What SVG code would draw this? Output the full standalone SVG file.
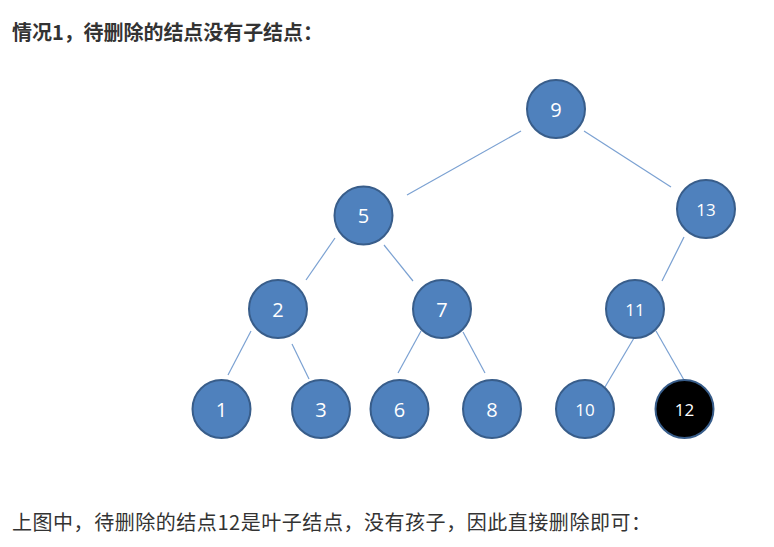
<svg xmlns="http://www.w3.org/2000/svg" width="774" height="547" viewBox="0 0 774 547">
<style>
.t{font-family:"Noto Sans CJK SC","Noto Sans",sans-serif;fill:#333333}
.n circle{fill:#4F81BD;stroke:#385D8A;stroke-width:2}
.n text{font-family:"Open Sans","Noto Sans",sans-serif;fill:#FFFFFF;text-anchor:middle;dominant-baseline:central}
.s{font-size:20px}
.d{font-size:17px}
#edges line{stroke:#7BA1D2;stroke-width:1.2}
</style>
<rect width="774" height="547" fill="#FFFFFF"/>
<text class="t" x="12" y="40" font-size="20" font-weight="bold" textLength="311" lengthAdjust="spacing">情况1，待删除的结点没有子结点：</text>
<g id="edges">
<line x1="521" y1="131" x2="407" y2="195"/>
<line x1="584" y1="131" x2="671" y2="187"/>
<line x1="335" y1="238" x2="306" y2="280"/>
<line x1="384" y1="245" x2="413" y2="281"/>
<line x1="684" y1="237" x2="662" y2="281"/>
<line x1="251" y1="331" x2="228" y2="375"/>
<line x1="292" y1="344" x2="309" y2="379"/>
<line x1="421" y1="331" x2="398" y2="373"/>
<line x1="463" y1="332" x2="485" y2="373"/>
<line x1="634" y1="338" x2="605" y2="387"/>
<line x1="656" y1="331" x2="684" y2="380"/>
</g>
<g id="n9" class="n"><circle cx="556" cy="109" r="29"/><text class="s" x="556" y="109">9</text></g>
<g id="n5" class="n"><circle cx="363.5" cy="215.5" r="29"/><text class="s" x="363.5" y="215.5">5</text></g>
<g id="n13" class="n"><circle cx="706" cy="209" r="29"/><text class="d" x="706" y="209">13</text></g>
<g id="n2" class="n"><circle cx="278" cy="309" r="29"/><text class="s" x="278" y="309">2</text></g>
<g id="n7" class="n"><circle cx="442" cy="309" r="29"/><text class="s" x="442" y="309">7</text></g>
<g id="n11" class="n"><circle cx="635" cy="309" r="29"/><text class="d" x="635" y="309">11</text></g>
<g id="n1" class="n"><circle cx="221.5" cy="409" r="29"/><text class="s" x="221.5" y="409">1</text></g>
<g id="n3" class="n"><circle cx="321" cy="409" r="29"/><text class="s" x="321" y="409">3</text></g>
<g id="n6" class="n"><circle cx="399.5" cy="409" r="29"/><text class="s" x="399.5" y="409">6</text></g>
<g id="n8" class="n"><circle cx="492" cy="409" r="29"/><text class="s" x="492" y="409">8</text></g>
<g id="n10" class="n"><circle cx="585" cy="409" r="29"/><text class="d" x="585" y="409">10</text></g>
<g id="n12" class="n"><circle cx="684.5" cy="409" r="29" style="fill:#000000"/><text class="d" x="684.5" y="409">12</text></g>
<text class="t" x="12" y="530" font-size="20" textLength="639" lengthAdjust="spacing">上图中，待删除的结点12是叶子结点，没有孩子，因此直接删除即可：</text>
</svg>
